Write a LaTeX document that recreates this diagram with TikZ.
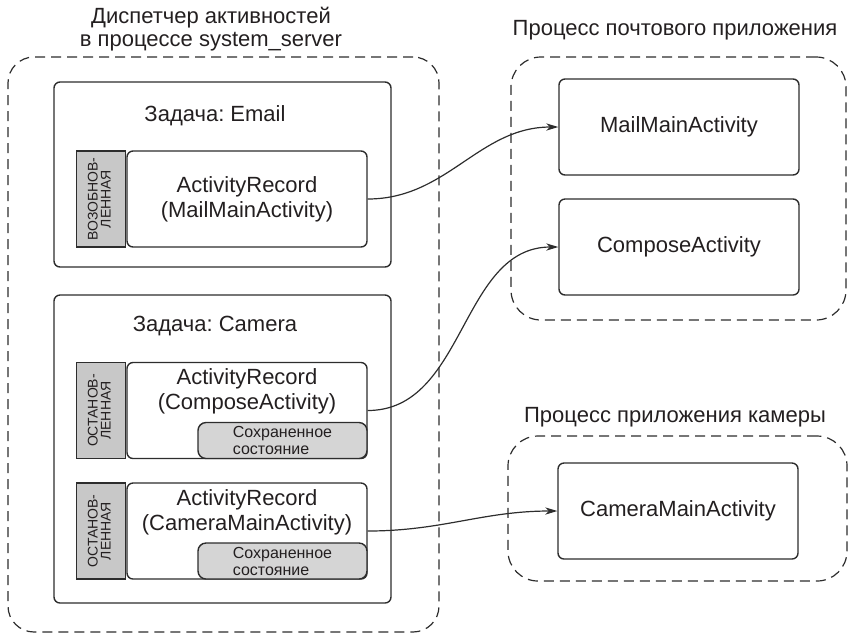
\documentclass[tikz,border=0pt]{standalone}
\usepackage{fontspec}
\setmainfont{Liberation Sans}
\usepackage{graphicx}
\usetikzlibrary{arrows.meta, positioning}
\definecolor{amline}{RGB}{45,45,45}
\definecolor{amtext}{RGB}{35,31,32}
\definecolor{stategray}{RGB}{200,200,200}
\definecolor{savegray}{RGB}{213,213,213}
\newcommand{\statetext}[2]{\rotatebox{90}{\begin{tabular}{@{}c@{}}#1\\[-1pt]#2\end{tabular}}}
\frenchspacing

\begin{document}
\begin{tikzpicture}[
  x=0.5pt, y=-0.5pt,
  every node/.style={font=\fontsize{11}{12.5}\selectfont,text=amtext},
  procbox/.style={draw=amline,dash pattern=on 5pt off 3pt,line width=0.6pt,
    rounded corners=13pt,inner sep=0pt},
  taskbox/.style={draw=amline,line width=0.7pt,rounded corners=3pt,
    minimum width=168.5pt,inner sep=0pt},
  recbox/.style={draw=amline,line width=0.7pt,rounded corners=3pt,
    minimum width=120pt,minimum height=48pt,align=center},
  statebox/.style={draw=amline,fill=stategray,line width=0.7pt,
    minimum width=24.5pt,minimum height=48pt,inner sep=0pt,
    font=\fontsize{7}{7.5}\selectfont},
  savebox/.style={draw=amline,fill=savegray,line width=0.7pt,rounded corners=4pt,
    minimum width=84.5pt,minimum height=18pt,inner sep=0pt,align=left,
    font=\fontsize{8}{8.5}\selectfont},
  ttl/.style={align=center,font=\fontsize{11}{11.5}\selectfont},
  arr/.style={-{Stealth[length=6pt,width=3.6pt,inset=1.8pt]},line width=0.6pt,draw=amline}
]
\useasboundingbox (0,0) rectangle (850,634);

% activity manager
\node[procbox,minimum width=215.5pt,minimum height=287.5pt] (mgr) at (223.5,344.5) {};
\node[ttl] (mgrtitle) at (211,29) {Диспетчер активностей\\в процессе system\_server};

\node[taskbox,minimum height=92.5pt] (emailtask) at (222.5,174.5) {};
\node (emailtitle) at (215,116) {Задача: Email};
\node[taskbox,minimum height=154pt] (cameratask) at (222.5,449) {};
\node (cameratitle) at (215,326) {Задача: Camera};

% Email task
\node[recbox] (recmail) at (247,199) {ActivityRecord\\(MailMainActivity)};
\node[statebox,left=0pt of recmail] (stmail) {\statetext{ВОЗОБНОВ-}{ЛЕННАЯ}};

% Camera task
\node[recbox] (reccompose) at (247,410.5) {};
\node[align=center,below=0pt of reccompose.north] (reccomposetext)
  {ActivityRecord\\(ComposeActivity)};
\node[statebox,left=0pt of reccompose] (stcompose) {\statetext{ОСТАНОВ-}{ЛЕННАЯ}};
\node[savebox,anchor=south east] (savecompose) at (reccompose.south east)
  {Сохраненное\\состояние};

\node[recbox] (reccamera) at (247,531) {};
\node[align=center,below=0pt of reccamera.north] (reccameratext)
  {ActivityRecord\\(CameraMainActivity)};
\node[statebox,left=0pt of reccamera] (stcamera) {\statetext{ОСТАНОВ-}{ЛЕННАЯ}};
\node[savebox,anchor=south east] (savecamera) at (reccamera.south east)
  {Сохраненное\\состояние};

% mail app process
\node[procbox,rounded corners=15pt,minimum width=167.5pt,minimum height=131.5pt]
  (mailproc) at (678.5,188.5) {};
\node[ttl] (mailtitle) at (675,30) {Процесс почтового приложения};
\node[recbox] (mailmain) at (679,127) {MailMainActivity};
\node[recbox] (compose) at (679,247) {ComposeActivity};

% camera app process
\node[procbox,rounded corners=15pt,minimum width=169.5pt,minimum height=72.5pt]
  (camproc) at (677.5,508.5) {};
\node[ttl] (camtitle) at (675,417) {Процесс приложения камеры};
\node[recbox] (cammain) at (678,511) {CameraMainActivity};

% records -> activities
\draw[arr] (recmail.east) to[out=0,in=180] (mailmain.west);
\draw[arr] (reccompose.east) to[out=0,in=180] (compose.west);
\draw[arr] (reccamera.east) to[out=0,in=180] (cammain.west);

\end{tikzpicture}
\end{document}
